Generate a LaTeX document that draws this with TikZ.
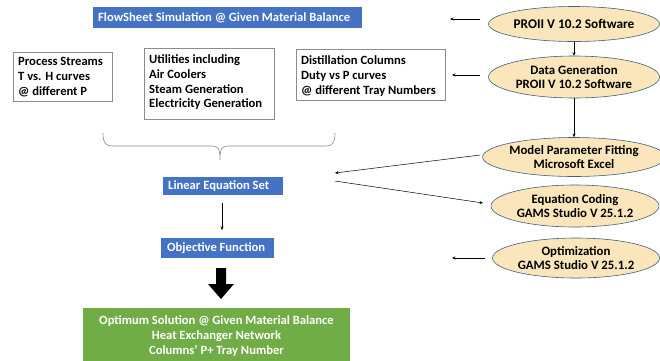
\documentclass[tikz,border=0pt]{standalone}
\usepackage{fontspec}
\setmainfont{Carlito}[UprightFont=* Bold,BoldFont=* Bold]
\usetikzlibrary{arrows.meta,shapes.geometric}
\definecolor{bluebox}{HTML}{4472C4}
\definecolor{greenbox}{HTML}{70AD47}
\definecolor{ellfill}{HTML}{FAE6BA}
\definecolor{ellline}{HTML}{41607F}
\definecolor{greyline}{HTML}{8C8C8C}
\begin{document}
\begin{tikzpicture}[x=1pt,y=-1pt,
  every node/.style={font=\fontsize{12.6}{14.8}\selectfont},
  ellnode/.style={ellipse,draw=ellline,line width=0.6pt,fill=ellfill,align=center,inner sep=0pt,font=\fontsize{12.8}{14.2}\selectfont},
  thinarrow/.style={line width=0.5pt,-{Stealth[length=3.5pt,width=3pt]}}
]
\useasboundingbox (0,0) rectangle (660,360);
% blue boxes
\fill[bluebox] (93,7) rectangle (362,28);
\node[text=white,anchor=west,inner sep=0pt] (fs) at (98,17.5) {FlowSheet Simulation @ Given Material Balance};
\fill[bluebox] (163,177) rectangle (283,195);
\node[text=white,anchor=west,inner sep=0pt] (lin) at (168,186) {Linear Equation Set};
\fill[bluebox] (161,238) rectangle (274,258);
\node[text=white,anchor=west,inner sep=0pt] (obj) at (167,248) {Objective Function};
% white boxes
\draw[greyline,line width=0.6pt] (13,52) rectangle (112,101);
\node[anchor=north west,align=left,inner sep=0pt] (ps) at (18,57.5) {Process Streams\\T vs. H curves\\@ different P};
\draw[greyline,line width=0.6pt] (144,48) rectangle (274,119);
\node[anchor=north west,align=left,inner sep=0pt] (ut) at (149,54.5) {Utilities including\\Air Coolers\\Steam Generation\\Electricity Generation};
\draw[greyline,line width=0.6pt] (296,49) rectangle (445,100);
\node[anchor=north west,align=left,inner sep=0pt] (dc) at (301,55.5) {Distillation Columns\\Duty vs P curves\\@ different Tray Numbers};
% brace
\draw[greyline,line width=0.6pt] (103,133) .. controls (103,143) and (106,146) .. (112,146) -- (212,146) .. controls (218,146) and (220,148) .. (220,160)
  (220,160) .. controls (220,148) and (222,146) .. (228,146) -- (326,146) .. controls (332,146) and (335,143) .. (335,133);
% ellipses
\node[ellnode,minimum width=171pt,minimum height=35pt,font=\fontsize{13.3}{15}\selectfont] (pro) at (574,24) {PROII V 10.2 Software};
\node[ellnode,minimum width=171pt,minimum height=42pt] (dg) at (574,77) {Data Generation\\PROII V 10.2 Software};
\node[ellnode,minimum width=171pt,minimum height=39pt] (mp) at (574,157) {Model Parameter Fitting\\Microsoft Excel};
\node[ellnode,minimum width=168pt,minimum height=42pt] (ec) at (575,206) {Equation Coding\\GAMS Studio V 25.1.2};
\node[ellnode,minimum width=167pt,minimum height=40pt] (op) at (576,258) {Optimization\\GAMS Studio V 25.1.2};
% coordinates
\coordinate (a1s) at (480,19); \coordinate (a1e) at (450,19);
\coordinate (a2s) at (480,75); \coordinate (a2e) at (452,75);
\coordinate (a3s) at (480,155); \coordinate (a3e) at (335,173);
\coordinate (a4s) at (335,181); \coordinate (a4e) at (483,203);
\coordinate (a5s) at (485,258); \coordinate (a5e) at (452,258);
\coordinate (linb) at (222,203); \coordinate (objt) at (222,230);
% arrows
\draw[thinarrow] (a1s) -- (a1e);
\draw[thinarrow] (a2s) -- (a2e);
\draw[thinarrow] (a3s) -- (a3e);
\draw[thinarrow] (a4s) -- (a4e);
\draw[thinarrow] (a5s) -- (a5e);
\draw[thinarrow] (pro.south) -- (dg.north);
\draw[thinarrow] (dg.south) -- (mp.north);
\draw[thinarrow] (linb) -- (objt);
% big arrow
\fill[black] (216,268) -- (226,268) -- (226,284) -- (234,284) -- (221,299) -- (208,284) -- (216,284) -- cycle;
% green box
\fill[greenbox] (83,308) rectangle (350,362);
\node[text=white,align=center,anchor=north,inner sep=0pt,font=\fontsize{12.6}{15}\selectfont] (res) at (216.5,315.5) {Optimum Solution @ Given Material Balance\\Heat Exchanger Network\\Columns’ P+ Tray Number};
\end{tikzpicture}
\end{document}
